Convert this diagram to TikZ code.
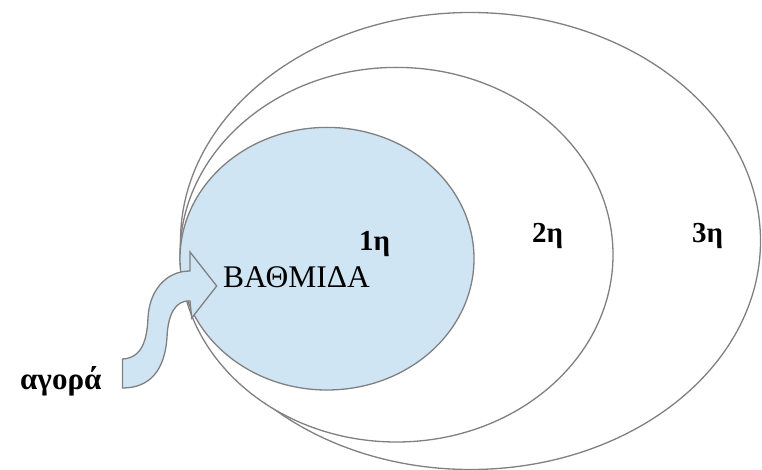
\documentclass[tikz,border=0pt]{standalone}
\usepackage{fontspec}
\setmainfont{Liberation Serif}
\definecolor{ringline}{RGB}{128,128,128}
\definecolor{lightfill}{RGB}{207,229,243}
\begin{document}
\begin{tikzpicture}[x=1pt,y=-1pt,
  ring/.style={draw=ringline,line width=1.3pt},
  lvl/.style={inner sep=0pt,anchor=base west,font=\fontsize{29}{31}\selectfont\bfseries},
  stage/.style={inner sep=0pt,anchor=base west,font=\fontsize{31.5}{33}\selectfont}]
\useasboundingbox (0,0) rectangle (762,470);
% rings
\draw[ring,fill=white] (470.5,241) ellipse [x radius=290, y radius=228.5];
\draw[ring,fill=white] (396.5,254.7) ellipse [x radius=216.5, y radius=187.3];
\draw[ring,fill=lightfill] (327,258.7) ellipse [x radius=147, y radius=131.3];
% curved arrow
\draw[ring,fill=lightfill,line join=miter]
  (122.5,359) .. controls (142,358) and (147,340) .. (148,318)
  .. controls (149,292) and (165,271) .. (190,271)
  -- (190,252) -- (216.7,286) -- (191.7,318) -- (190,301)
  .. controls (175,300) and (168,315) .. (167,337)
  .. controls (165,370) and (150,388) .. (122.5,388) -- cycle;
% labels
\node[lvl] (l1) at (359,250.7) {1η};
\node[lvl] (l2) at (532,242) {2η};
\node[lvl] (l3) at (692,242) {3η};
\node[stage] (st) at (223,287) {ΒΑΘΜΙΔΑ};
\node[lvl,font=\fontsize{31}{33}\selectfont\bfseries] (ag) at (20,389) {αγορά};
\end{tikzpicture}
\end{document}
